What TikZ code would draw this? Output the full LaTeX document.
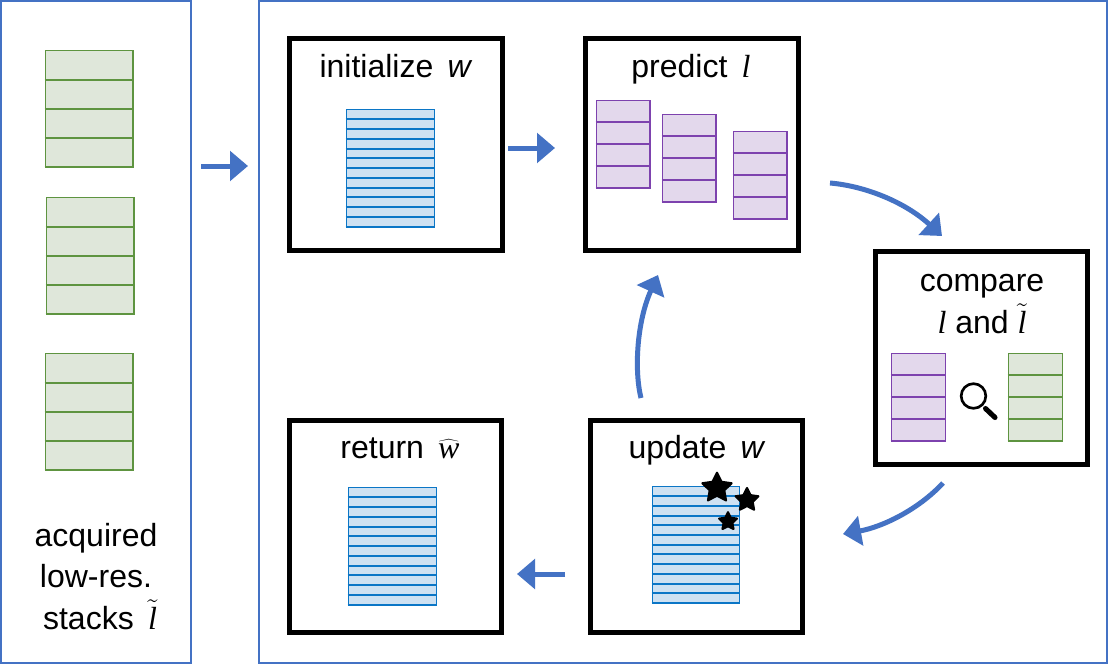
\documentclass[tikz,border=0pt]{standalone}
\usepackage{fontspec}
\setmainfont{Liberation Sans}
\newfontfamily\serifit{Liberation Serif}
\usetikzlibrary{arrows.meta,shapes.geometric}
\definecolor{panelblue}{HTML}{4472C4}
\definecolor{gfill}{HTML}{DFE7DA}
\definecolor{gline}{HTML}{5E9440}
\definecolor{pfill}{HTML}{E3D8EC}
\definecolor{pline}{HTML}{7D42AE}
\definecolor{bfill}{HTML}{CEE1F2}
\definecolor{bline}{HTML}{0B76C6}
\newcommand{\il}{\mbox{\serifit\itshape l}}
\newcommand{\iw}{\mbox{\serifit\itshape w}}
\tikzset{
  panel/.style={draw=panelblue,line width=1.6pt,fill=white,inner sep=0pt,rectangle},
  stepbox/.style={draw=black,line width=3.75pt,fill=white,inner sep=0pt,rectangle,minimum width=159.5pt,minimum height=159.5pt},
  label/.style={inner sep=0pt,anchor=base,font=\fontsize{24}{28}\selectfont,text=black},
  flow/.style={draw=panelblue,line width=3.75pt,-{Triangle[length=13.5pt,width=22pt]}},
  greenstack/.style={draw=gline,fill=gfill,line width=1.2pt},
  purplestack/.style={draw=pline,fill=pfill,line width=1.2pt},
  bluestack/.style={draw=bline,fill=bfill,line width=1.4pt},
  starmark/.style={star,star points=5,star point ratio=2.0,fill=black,draw=black,line width=1.6pt,line join=round,inner sep=0pt},
}
% name, left, top, right, bottom, rows, style
\newcommand{\stackbox}[7]{%
  \node[#7,rectangle,inner sep=0pt,minimum width={(#4-#2)*0.75pt},minimum height={(#5-#3)*0.75pt}] (#1) at ({(#2+#4)/2},{(#3+#5)/2}) {};
  \foreach \rowi in {1,...,#6}{
    \draw[#7,fill=none] (#1.west |- 0,{round(#3+(#5-#3)*\rowi/#6)}) -- (#1.east |- 0,{round(#3+(#5-#3)*\rowi/#6)});
  }
}
\begin{document}
\begin{tikzpicture}[x=0.75pt,y=-0.75pt]
\useasboundingbox (0,0) rectangle (1108,664);
% panels
\node[panel,minimum width=142.5pt,minimum height=496.5pt] (left) at (96,332) {};
\node[panel,minimum width=636pt,minimum height=496.5pt] (right) at (683,332) {};
% step boxes
\node[stepbox] (init) at (396,144.5) {};
\node[stepbox] (pred) at (692,144.5) {};
\node[stepbox] (comp) at (981.5,358) {};
\node[stepbox] (upd) at (696.5,526.5) {};
\node[stepbox] (ret) at (395.5,526.5) {};
% green stacks, left
\stackbox{ga}{45.5}{50.5}{133}{167}{4}{greenstack}
\stackbox{gb}{46.5}{197.5}{134}{314}{4}{greenstack}
\stackbox{gc}{45.5}{353.5}{133}{470}{4}{greenstack}
% blue stacks
\stackbox{bi}{346.5}{109.5}{434.5}{226.5}{12}{bluestack}
\stackbox{bu}{652.5}{486.5}{739.5}{603}{12}{bluestack}
\stackbox{br}{348.5}{487.5}{436.5}{604.5}{12}{bluestack}
% purple stacks
\stackbox{pa}{596.5}{100.5}{650}{188}{4}{purplestack}
\stackbox{pb}{662.5}{114.5}{716}{202}{4}{purplestack}
\stackbox{pc}{733.5}{131.5}{787}{218.5}{4}{purplestack}
\stackbox{pd}{891.5}{353.5}{945.5}{440.5}{4}{purplestack}
\stackbox{gd}{1008.5}{353.5}{1062.5}{440.5}{4}{greenstack}
% labels
\node[label] (tinit) at (396,77) {initialize\, \textit{w}};
\node[label] (tpred) at (691,77) {predict\, $\il$};
\node[label] (tcompa) at (982,291) {compare};
\node[label] (tcompb) at (982,333) {$\il$ and $\tilde{\il}$};
\node[label] (tupd) at (697,458) {update\, \textit{w}};
\node[label] (tret) at (400,458) {return\, $\widehat{\iw}$};
\node[label] (ta) at (96,546) {acquired};
\node[label] (tb) at (96,587) {low-res.};
\node[label] (tc) at (100,629) {stacks\, $\tilde{\il}$};
% stars
\node[starmark,minimum size=23pt] (s1) at (717,488) {};
\node[starmark,minimum size=18pt] (s2) at (747,500) {};
\node[starmark,minimum size=14pt] (s3) at (728,521.5) {};
% magnifier
\node[circle,draw=black,line width=2pt,minimum size=18.5pt,inner sep=0pt] (lens) at (973.5,396) {};
\coordinate (hs) at (985.5,408.5);
\coordinate (he) at (995,417.5);
\draw[black,line width=3.8pt,line cap=round] (hs) -- (he);
% arrows
\coordinate (a1s) at (201,166); \coordinate (a1e) at (248,166);
\coordinate (a2s) at (508,148); \coordinate (a2e) at (555,148);
\coordinate (a3s) at (830,183); \coordinate (a3e) at (942,236);
\coordinate (a4s) at (943,483); \coordinate (a4e) at (843,534);
\coordinate (a5s) at (565,574); \coordinate (a5e) at (517,574);
\coordinate (a6s) at (641,398); \coordinate (a6e) at (658,275);
\draw[flow] (a1s) -- (a1e);
\draw[flow] (a2s) -- (a2e);
\draw[flow] (a3s) .. controls (865,186) and (905,202) .. (a3e);
\draw[flow] (a4s) .. controls (918,510) and (882,527) .. (a4e);
\draw[flow] (a5s) -- (a5e);
\draw[flow] (a6s) .. controls (634,370) and (637,321) .. (a6e);
\end{tikzpicture}
\end{document}
